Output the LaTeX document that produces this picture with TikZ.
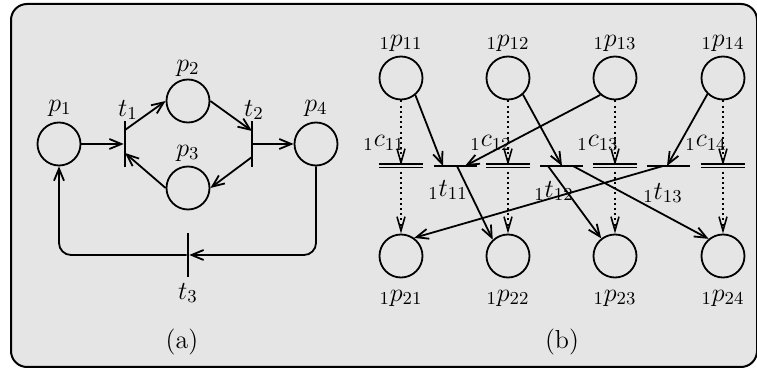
\RequirePackage{fix-cm}
\documentclass[tikz,border=0pt]{standalone}
\usetikzlibrary{arrows.meta, positioning, calc}
\definecolor{paper}{gray}{0.9}

\begin{document}
\begin{tikzpicture}[
    x=0.5pt, y=-0.5pt,
    % Styles
    place/.style={
        circle, draw, line width=0.9pt, minimum size=21.5pt, inner sep=0pt
    },
    vbar/.style={
        rectangle, fill=black, inner sep=0pt,
        minimum width=0.9pt, minimum height=23pt
    },
    hbar/.style={
        rectangle, fill=black, inner sep=0pt,
        minimum width=21.5pt, minimum height=1pt
    },
    cbar/.style={
        rectangle, inner sep=0pt, minimum width=21.5pt, minimum height=0pt
    },
    ctrlbar/.style={
        line width=0.6pt, double=paper, double distance=1.3pt
    },
    arc/.style={
        -{Straight Barb[length=6pt, width=5pt]}, line width=0.9pt
    },
    ctrl/.style={
        -{Straight Barb[length=7pt, width=4pt]}, line width=0.8pt,
        dash pattern=on 1pt off 1.6pt
    },
    lbl/.style={
        font=\fontsize{13}{15}\selectfont, inner sep=1pt
    }
]

\useasboundingbox (0,0) rectangle (757,369);
\draw[line width=1pt, rounded corners=8pt, fill=paper] (11,4) rectangle (757,367);

% ── Net (a) ────────────────────────────────────────────────────────────────
\node[place] (p1) at (59,144) {};
\node[place] (p2) at (188,101) {};
\node[place] (p3) at (188,188) {};
\node[place] (p4) at (316,144) {};
\node[vbar] (t1) at (125,144) {};
\node[vbar] (t2) at (252,144) {};
\node[vbar, minimum height=22pt] (t3) at (188,255) {};

\node[lbl] (lp1) at (60,108) {$p_1$};
\node[lbl] (lt1) at (128,110) {$t_1$};
\node[lbl] (lp2) at (188,68) {$p_2$};
\node[lbl] (lt2) at (254,110) {$t_2$};
\node[lbl] (lp3) at (188,153) {$p_3$};
\node[lbl] (lp4) at (316,108) {$p_4$};
\node[lbl] (lt3) at (188,293) {$t_3$};
\node[lbl] (capa) at (182,342) {(a)};

\draw[arc] (p1) -- (t1);
\draw[arc] ([yshift=7pt]t1.center) -- (p2.west);
\draw[arc] (p2.east) -- ([yshift=6.5pt]t2.center);
\draw[arc] (t2) -- (p4);
\draw[arc] ([yshift=-6.5pt]t2.center) -- (p3.east);
\draw[arc] (p3.west) -- ([yshift=-4.5pt]t1.center);
\draw[arc, rounded corners=6pt] (p4.south) |- (t3);
\draw[arc, rounded corners=6pt] (t3) -| (p1.south);

% ── Net (b) ────────────────────────────────────────────────────────────────
\foreach \i/\x in {1/401, 2/508, 3/615, 4/723} {
    \node[place] (p1\i) at (\x,78) {};
    \node[place] (p2\i) at (\x,256) {};
    \node[cbar] (c1\i) at (\x,166) {};
    \node[lbl] (lp1\i) at (\x,43) {${}_1p_{1\i}$};
    \node[lbl] (lp2\i) at (\x,298) {${}_1p_{2\i}$};
    \node[lbl] (lc1\i) at (\x-17,143) {${}_1c_{1\i}$};
}

\node[hbar] (t11) at (455,166) {};
\node[hbar] (t12) at (561,166) {};
\node[hbar] (t13) at (668,166) {};
\node[lbl] (lt11) at (448,190) {${}_1t_{11}$};
\node[lbl] (lt12) at (554,191) {${}_1t_{12}$};
\node[lbl] (lt13) at (663,193) {${}_1t_{13}$};
\node[lbl] (capb) at (562,342) {(b)};

% control places: dotted arcs
\foreach \i in {1,...,4} {
    \draw[ctrl] (p1\i) -- (c1\i);
    \draw[ctrl] (c1\i) -- (p2\i);
    \draw[ctrlbar] (c1\i.west) -- (c1\i.east);
}

% input arcs
\draw[arc] (p11.310) -- ($(t11)+(-12,0)$);
\draw[arc] (p13.229) -- ($(t11)+(10,0)$);
\draw[arc] (p12.312) -- ($(t12)+(1,0)$);
\draw[arc] (p14.226) -- ($(t13)+(-1,0)$);

% output arcs
\draw[arc] ($(t11)+(2,0)$) -- (p22.133);
\draw[arc] ($(t12)+(-13,0)$) -- (p23.128);
\draw[arc] ($(t12)+(12,0)$) -- (p24.130);
\draw[arc] ($(t13)+(-5,0)$) -- (p21.54);

\end{tikzpicture}
\end{document}
